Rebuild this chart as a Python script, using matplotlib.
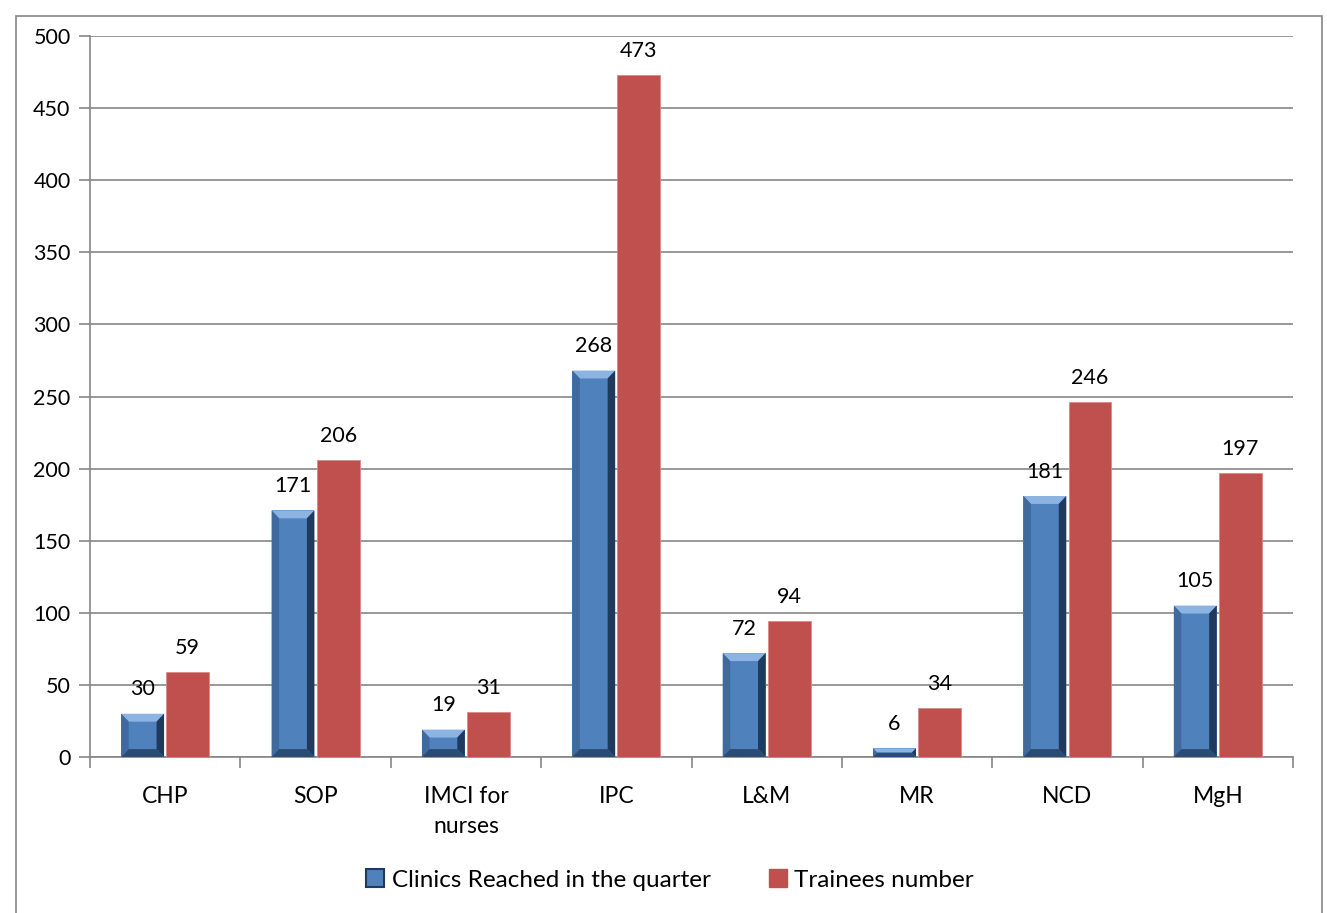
import numpy as np
import matplotlib
matplotlib.use("Agg")
import matplotlib.pyplot as plt
from matplotlib.patches import Polygon, Rectangle, Patch

plt.rcParams['font.family'] = ['Lato', 'DejaVu Sans']

# === Data ===
categories = ['CHP', 'SOP', 'IMCI for\nnurses', 'IPC', 'L&M', 'MR', 'NCD', 'MgH']
clinics = [30, 171, 19, 268, 72, 6, 181, 105]
trainees = [59, 206, 31, 473, 94, 34, 246, 197]
series_names = ['Clinics Reached in the quarter', 'Trainees number']

blue = '#4F81BD'
red = '#C0504D'
grid_col = '#868686'

fig = plt.figure(figsize=(13.27, 9.13), dpi=100)
ax = fig.add_axes([90 / 1327, 1 - 757 / 913, (1293 - 90) / 1327, (757 - 36) / 913])

x = np.arange(len(categories))
w = 0.285
off = 0.15

# plain blue bars first, bevel drawn on top
ax.bar(x - off, clinics, w, color=blue, zorder=3)
ax.bar(x + off, trainees, w, color=red, edgecolor='#D98A88', linewidth=0.6, zorder=3)


def bevel(ax, xc, h, w, dx=0.05, dy=5.5):
    x0, x1 = xc - w / 2, xc + w / 2
    b = min(dy, h / 2)
    d = dx if h / 2 >= dy else dx * (h / 2) / dy
    faces = [
        ([(x0, h), (x1, h), (x1 - d, h - b), (x0 + d, h - b)], '#8DB3E2'),   # top
        ([(x0, 0), (x0, h), (x0 + d, h - b), (x0 + d, b)], '#3F6A9E'),        # left
        ([(x1, 0), (x1, h), (x1 - d, h - b), (x1 - d, b)], '#1F3A5C'),        # right
        ([(x0, 0), (x1, 0), (x1 - d, b), (x0 + d, b)], '#2B4B73'),            # bottom
    ]
    for pts, c in faces:
        ax.add_patch(Polygon(pts, closed=True, facecolor=c, edgecolor='none', zorder=4))


for xi, v in zip(x, clinics):
    bevel(ax, xi - off, v, w)

# data labels
for xi, v in zip(x, clinics):
    ax.text(xi - off, v + 10, str(v), ha='center', va='bottom', fontsize=15.5, zorder=5)
for xi, v in zip(x, trainees):
    ax.text(xi + off, v + 10, str(v), ha='center', va='bottom', fontsize=15.5, zorder=5)

ax.set_xlim(-0.5, len(categories) - 0.5)
ax.set_ylim(0, 500)
ax.set_yticks(np.arange(0, 501, 50))
ax.yaxis.grid(True, color=grid_col, linewidth=1.2)
ax.set_axisbelow(True)

ax.set_xticks(np.arange(-0.5, len(categories), 1))
ax.set_xticklabels([])
ax.set_xticks(x, minor=True)
ax.set_xticklabels(categories, minor=True, fontsize=16.5, linespacing=1.5,
                   va='top')
ax.tick_params(axis='x', which='major', length=8, color=grid_col, width=1.2)
ax.tick_params(axis='x', which='minor', length=0, pad=21)
ax.tick_params(axis='y', length=8, color=grid_col, width=1.2, labelsize=15.5, pad=6)

for s in ['top', 'right']:
    ax.spines[s].set_visible(False)
for s in ['left', 'bottom']:
    ax.spines[s].set_color(grid_col)
    ax.spines[s].set_linewidth(1.2)

handles = [Patch(facecolor=blue, edgecolor='#1F3A5C', linewidth=1.5),
           Patch(facecolor=red, edgecolor=red)]
fig.legend(handles, series_names, loc='center', bbox_to_anchor=(0.505, 1 - 880 / 913),
           ncol=2, frameon=False, fontsize=17.5, handlelength=0.75, handleheight=0.75,
           handletextpad=0.3, columnspacing=2.4)

# outer chart frame
fig.patches.append(Rectangle((16 / 1327, -0.05), (1322 - 16) / 1327, 1.05 - 16 / 913,
                             transform=fig.transFigure, fill=False,
                             edgecolor=grid_col, linewidth=1.2))

fig.savefig('out.png', dpi=100)
